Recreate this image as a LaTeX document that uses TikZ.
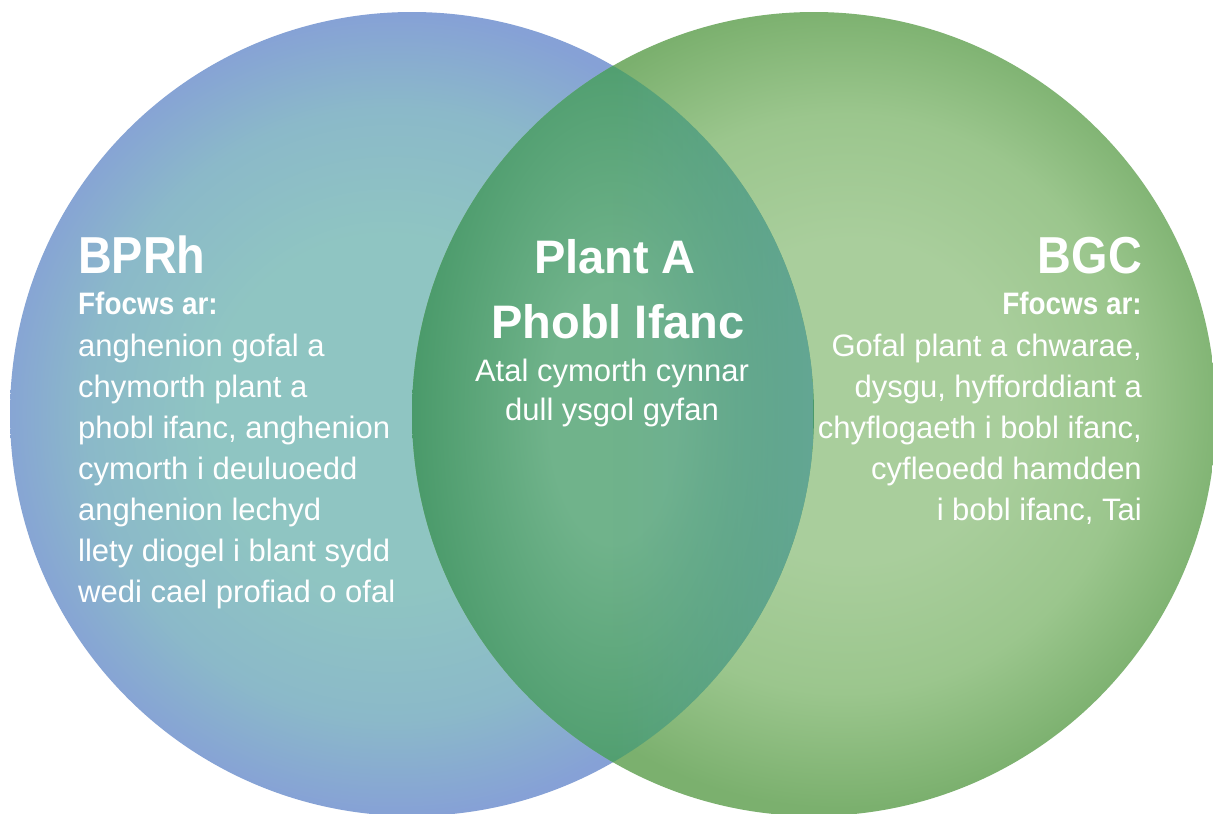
\documentclass[tikz,border=0pt]{standalone}
\usepackage{fontspec}
\setmainfont{Liberation Sans}
\definecolor{lteal}{HTML}{8FC5C2}
\definecolor{lteal2}{HTML}{8BB9C9}
\definecolor{lblue}{HTML}{86A1D6}
\definecolor{rgreenc}{HTML}{A9CE9C}
\definecolor{rgreenm}{HTML}{9BC68D}
\definecolor{rgreene}{HTML}{7BB06E}
\definecolor{lensc}{HTML}{70B38B}
\definecolor{lense}{HTML}{4A9A6A}
\definecolor{lensteal}{HTML}{6AAA9E}
\pgfdeclareradialshading{leftsh}{\pgfpoint{-2bp}{0bp}}{color(0bp)=(lteal); color(11bp)=(lteal); color(19bp)=(lteal2); color(25bp)=(lblue); color(50bp)=(lblue)}
\pgfdeclareradialshading{rightsh}{\pgfpoint{3bp}{1bp}}{color(0bp)=(rgreenc); color(10bp)=(rgreenc); color(18bp)=(rgreenm); color(25bp)=(rgreene); color(50bp)=(rgreene)}
\pgfdeclareradialshading{lenssh}{\pgfpoint{0bp}{0bp}}{color(0bp)=(lensc); color(8bp)=(lensc); color(25bp)=(lense); color(50bp)=(lense)}
\newcommand{\hsq}[1]{\scalebox{0.9}[1]{#1}}
\tikzset{
  txt/.style={text=white, inner sep=0pt, font=\fontsize{31}{37}\selectfont},
  head/.style={text=white, inner sep=0pt, font=\fontsize{52}{60}\selectfont\bfseries},
  sub/.style={text=white, inner sep=0pt, font=\fontsize{31}{37}\selectfont\bfseries},
  midhead/.style={text=white, inner sep=0pt, font=\fontsize{47}{55}\selectfont\bfseries},
}
\begin{document}
\begin{tikzpicture}[x=1pt,y=-1pt]
\useasboundingbox (0,0) rectangle (1213,814);
\fill[white] (0,0) rectangle (1213,814);
\begin{scope}
\clip (0,0) rectangle (1213,814);
% circles
\shade[shading=leftsh] (412,414) circle[radius=402];
\shade[shading=rightsh] (814,414) circle[radius=402];
% lens
\begin{scope}
\clip (412,414) circle[radius=402];
\clip (814,414) circle[radius=402];
\shade[shading=lenssh] (412,12) rectangle (814,816);
\foreach \i in {0,...,39}{
  \pgfmathsetmacro{\xa}{613+\i*5}
  \pgfmathsetmacro{\op}{0.8*(\i+0.5)/40}
  \fill[lensteal, fill opacity=\op] (\xa,12) rectangle (\xa+5.3,816);
}
\end{scope}
\end{scope}
% left block
\node[head, anchor=base west] (lh) at (78,273) {\hsq{BPRh}};
\node[sub, anchor=base west] (lf) at (78,314) {\hsq{Ffocws ar:}};
\node[txt, anchor=base west] (l1) at (78,356) {anghenion gofal a};
\node[txt, anchor=base west] (l2) at (78,397) {chymorth plant a};
\node[txt, anchor=base west] (l3) at (78,438) {phobl ifanc, anghenion};
\node[txt, anchor=base west] (l4) at (78,479) {cymorth i deuluoedd};
\node[txt, anchor=base west] (l5) at (78,520) {anghenion lechyd};
\node[txt, anchor=base west] (l6) at (78,561) {llety diogel i blant sydd};
\node[txt, anchor=base west] (l7) at (78,602) {wedi cael profiad o ofal};
% right block
\node[head, anchor=base east] (rh) at (1142,273) {\hsq{BGC}};
\node[sub, anchor=base east] (rf) at (1142,314) {\hsq{Ffocws ar:}};
\node[txt, anchor=base east] (r1) at (1142,356) {Gofal plant a chwarae,};
\node[txt, anchor=base east] (r2) at (1142,397) {dysgu, hyfforddiant a};
\node[txt, anchor=base east] (r3) at (1142,438) {chyflogaeth i bobl ifanc,};
\node[txt, anchor=base east] (r4) at (1142,479) {cyfleoedd hamdden};
\node[txt, anchor=base east] (r5) at (1142,520) {i bobl ifanc, Tai};
% centre block
\node[midhead, anchor=base] (c1) at (615,273) {Plant A};
\node[midhead, anchor=base] (c2) at (618,338) {Phobl Ifanc};
\node[txt, anchor=base] (c3) at (612,381) {Atal cymorth cynnar};
\node[txt, anchor=base] (c4) at (612,420) {dull ysgol gyfan};
\end{tikzpicture}
\end{document}
